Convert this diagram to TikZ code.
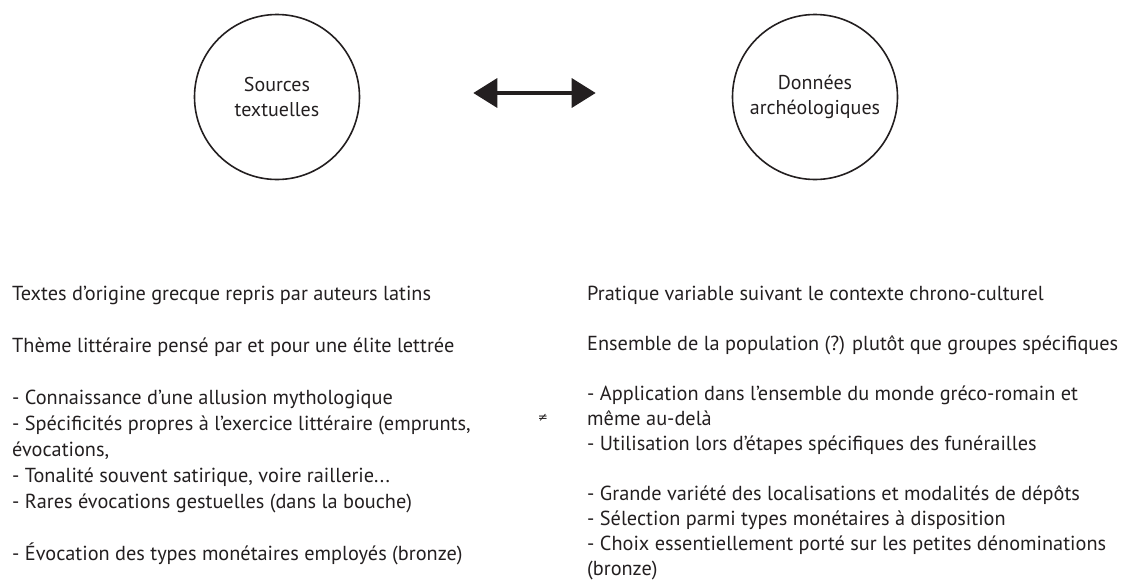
\documentclass[tikz,border=0pt]{standalone}
\usepackage{fontspec}
\setmainfont{PT Sans}
\newfontfamily\symfont{DejaVu Sans}
\usetikzlibrary{positioning, arrows.meta}
\definecolor{inkblack}{HTML}{231F20}
\tikzset{
    source/.style={circle, draw=inkblack, line width=1.6pt, minimum size=165pt, inner sep=0pt, align=center, text=inkblack, font=\fontsize{20}{25}\selectfont},
    column/.style={anchor=base west, align=left, inner sep=0pt, text=inkblack, font=\fontsize{20.3}{26}\selectfont},
    dblarrow/.style={draw=inkblack, line width=3.5pt, {Triangle[length=24pt,width=29pt]}-{Triangle[length=24pt,width=29pt]}}
}

\begin{document}
\begin{tikzpicture}[x=1pt, y=-1pt]
    \useasboundingbox (0,0) rectangle (1124,579);
    \node (textSrc) [source] at (277,97) {Sources\\textuelles};
    \node (archData) [source] at (815,97) {Données\\archéologiques};

    \draw [dblarrow] ([xshift=113pt, yshift=4pt]textSrc.east) -- ([xshift=-136pt, yshift=4pt]archData.west);

    % base anchor sits on the last line
    \node (textCol) [column] at (12,560) {Textes d’origine grecque repris par auteurs latins\\[26pt]
        Thème littéraire pensé par et pour une élite lettrée\\[26pt]
        - Connaissance d’une allusion mythologique\\
        - Spécificités propres à l’exercice littéraire (emprunts,\\
        évocations,\\
        - Tonalité souvent satirique, voire raillerie...\\
        - Rares évocations gestuelles (dans la bouche)\\[26pt]
        - Évocation des types monétaires employés (bronze)};
    \node (archCol) [column, font=\fontsize{20.3}{25}\selectfont] at (587,575) {Pratique variable suivant le contexte chrono-culturel\\[25pt]
        Ensemble de la population (?) plutôt que groupes spécifiques\\[25pt]
        - Application dans l’ensemble du monde gréco-romain et\\
        même au-delà\\
        - Utilisation lors d’étapes spécifiques des funérailles\\[25pt]
        - Grande variété des localisations et modalités de dépôts\\
        - Sélection parmi types monétaires à disposition\\
        - Choix essentiellement porté sur les petites dénominations\\
        (bronze)};

    \node (neq) [text=inkblack, font=\symfont\fontsize{12}{12}\selectfont] at (543,418) {≠};
\end{tikzpicture}
\end{document}
